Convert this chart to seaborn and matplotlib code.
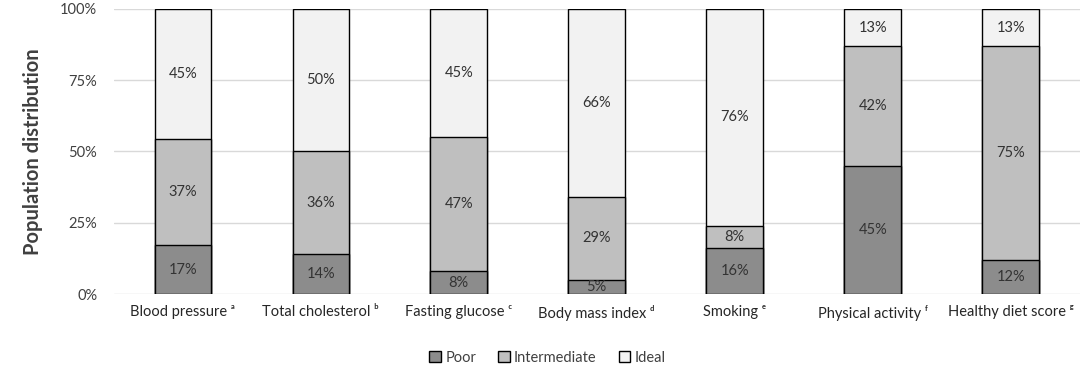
import matplotlib
matplotlib.use("Agg")
import matplotlib.pyplot as plt
import seaborn as sns
import pandas as pd
import numpy as np
from matplotlib.patches import Patch

categories = ["Blood pressure", "Total cholesterol", "Fasting glucose", "Body mass index",
              "Smoking", "Physical activity", "Healthy diet score"]
superscripts = ["ᵃ", "ᵇ", "ᶜ", "ᵈ", "ᵉ", "ᶠ", "ᵍ"]
poor = [17, 14, 8, 5, 16, 45, 12]
intermediate = [37, 36, 47, 29, 8, 42, 75]
ideal = [45, 50, 45, 66, 76, 13, 13]
series_names = ["Poor", "Intermediate", "Ideal"]
colors = ["#8c8c8c", "#bfbfbf", "#f2f2f2"]

sns.set_theme(style="white")
plt.rcParams["font.family"] = ["Lato", "DejaVu Sans"]

labels = [f"{c} {s}" for c, s in zip(categories, superscripts)]
vals = np.array([poor, intermediate, ideal], dtype=float)
shares = vals / vals.sum(axis=0) * 100
cum = np.cumsum(shares, axis=0)

fig = plt.figure(figsize=(10.84, 3.70), dpi=100)
ax = fig.add_axes([0.105, 0.2054, 0.891, 0.7703])

for i in [2, 1, 0]:
    df = pd.DataFrame({"cat": labels, "val": cum[i]})
    sns.barplot(data=df, x="cat", y="val", color=colors[i], width=0.41,
                edgecolor="black", linewidth=1.0, ax=ax, zorder=3, saturation=1)

for j in range(len(categories)):
    for i in range(3):
        bottom = cum[i][j] - shares[i][j]
        ax.text(j, bottom + shares[i][j] / 2, f"{int(vals[i][j])}%", ha="center", va="center",
                fontsize=10.5, color="#333333", zorder=4)

ax.set_ylim(0, 100)
ax.set_xlim(-0.5, len(categories) - 0.5)
ax.set_yticks([0, 25, 50, 75, 100])
ax.set_yticklabels(["0%", "25%", "50%", "75%", "100%"], fontsize=10.5, color="#404040")
ax.tick_params(axis="x", labelsize=10.5, colors="#262626", pad=8, length=0)
ax.tick_params(axis="y", length=0, pad=12)
ax.set_xlabel("")
ax.set_ylabel("Population distribution", fontsize=14.5, fontweight="bold", color="#404040", labelpad=12)
ax.yaxis.grid(True, color="#d9d9d9", linewidth=1, zorder=0)
ax.set_axisbelow(True)
for s in ax.spines.values():
    s.set_visible(False)

handles = [Patch(facecolor=c, edgecolor="black", linewidth=1, label=n) for c, n in zip(colors, series_names)]
fig.legend(handles=handles, loc="center", bbox_to_anchor=(0.505, 0.033), ncol=3, frameon=False,
           fontsize=10.5, handlelength=0.8, handleheight=0.8, handletextpad=0.3, columnspacing=1.5,
           labelcolor="#404040")

fig.savefig("out.png", dpi=100)
